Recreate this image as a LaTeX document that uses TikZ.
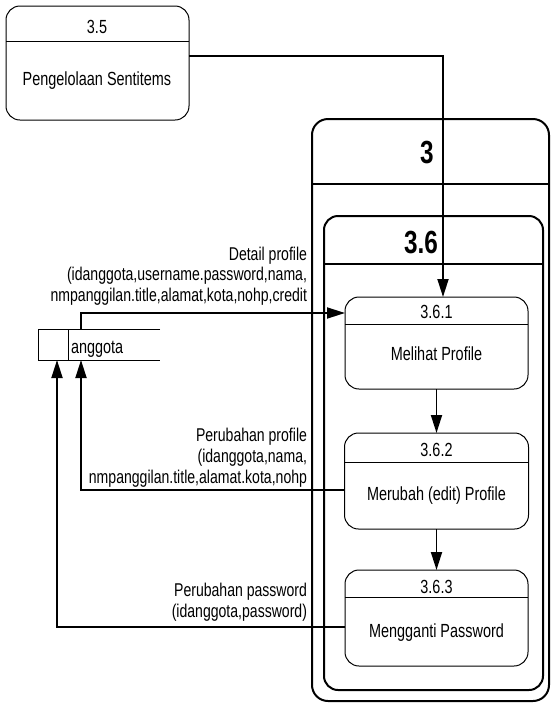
\documentclass[tikz,border=0pt]{standalone}
\usepackage{fontspec}
\setmainfont[FakeStretch=0.76]{Liberation Sans}
\usetikzlibrary{arrows.meta}

\begin{document}
\begin{tikzpicture}[x=1pt,y=-1pt,
  every node/.style={inner sep=0pt, outer sep=0pt},
  proc/.style={draw, line width=1pt, rounded corners=14pt},
  group/.style={draw, line width=2pt, rounded corners=16pt},
  boxtext/.style={font=\fontsize{19}{19}\selectfont, anchor=base},
  groupnum/.style={font=\bfseries\fontsize{32}{32}\selectfont, anchor=base},
  flowlabel/.style={font=\fontsize{18.5}{20.8}\selectfont, align=right, anchor=base east},
  flow/.style={line width=1.8pt, -{Triangle[length=18pt,width=11pt]}},
  storeline/.style={line width=1pt}
]
\useasboundingbox (0,0) rectangle (550,705);

% process 3.5
\node[proc, minimum width=183pt, minimum height=114pt] (p35) at (97.5,63) {};
\draw[line width=1pt] (p35.west |- 0,41) -- (p35.east |- 0,41);
\node[boxtext] (n35) at (97,33) {3.5};
\node[boxtext] (t35) at (97,85) {Pengelolaan Sentitems};

% group 3
\node[group, minimum width=237pt, minimum height=582pt] (p3) at (430.5,410) {};
\draw[line width=2pt] (p3.west |- 0,184) -- (p3.east |- 0,184);
\node[groupnum] (n3) at (427,163) {3};

% group 3.6
\node[group, rounded corners=14pt, minimum width=219pt, minimum height=474pt] (p36) at (433.5,453) {};
\draw[line width=2pt] (p36.west |- 0,264) -- (p36.east |- 0,264);
\node[groupnum] (n36) at (421,253) {3.6};

% process 3.6.1
\node[proc, minimum width=183pt, minimum height=92pt] (p361) at (436.5,343) {};
\draw[line width=1pt] (p361.west |- 0,324) -- (p361.east |- 0,324);
\node[boxtext] (n361) at (436.5,318) {3.6.1};
\node[boxtext] (t361) at (436.5,360) {Melihat Profile};

% process 3.6.2
\node[proc, minimum width=184pt, minimum height=96pt] (p362) at (436.5,481) {};
\draw[line width=1pt] (p362.west |- 0,462) -- (p362.east |- 0,462);
\node[boxtext] (n362) at (436.5,456) {3.6.2};
\node[boxtext] (t362) at (436.5,500) {Merubah (edit) Profile};

% process 3.6.3
\node[proc, minimum width=183pt, minimum height=96pt] (p363) at (436.5,618) {};
\draw[line width=1pt] (p363.west |- 0,597) -- (p363.east |- 0,597);
\node[boxtext] (n363) at (436.5,593) {3.6.3};
\node[boxtext] (t363) at (436.5,637) {Mengganti Password};

% data store anggota
\node[minimum width=122pt, minimum height=31pt] (ds) at (99,344.5) {};
\draw[storeline] (ds.north east) -- (ds.north west) -- (ds.south west) -- (ds.south east);
\draw[storeline] (68,0 |- ds.north) -- (68,0 |- ds.south);
\node[font=\fontsize{19}{19}\selectfont, anchor=base west] (tds) at (71,353) {anggota};

% flows
\coordinate (s35) at (p35.east |- 0,56);
\draw[flow] (s35) -- (443,56) -- (p361.north -| 443,0);
\draw[flow] (p361) -- (p362);
\draw[flow] (p362) -- (p363);
\draw[flow] (ds.north -| 81,0) -- (81,313) -- (p361.west |- 0,313);
\draw[flow] (p362.west |- 0,490) -- (81,490) -- (ds.south -| 81,0);
\draw[flow] (p363.west |- 0,627) -- (57,627) -- (ds.south -| 57,0);

% flow labels (anchored on the baseline of the last line)
\node[flowlabel] (l1) at (307,301.6) {Detail profile\\(idanggota,username.password,nama,\\nmpanggilan.title,alamat,kota,nohp,credit};
\node[flowlabel] (l2) at (307,483) {Perubahan profile\\(idanggota,nama,\\nmpanggilan.title,alamat.kota,nohp};
\node[flowlabel] (l3) at (307,617) {Perubahan password\\(idanggota,password)};
\end{tikzpicture}
\end{document}
